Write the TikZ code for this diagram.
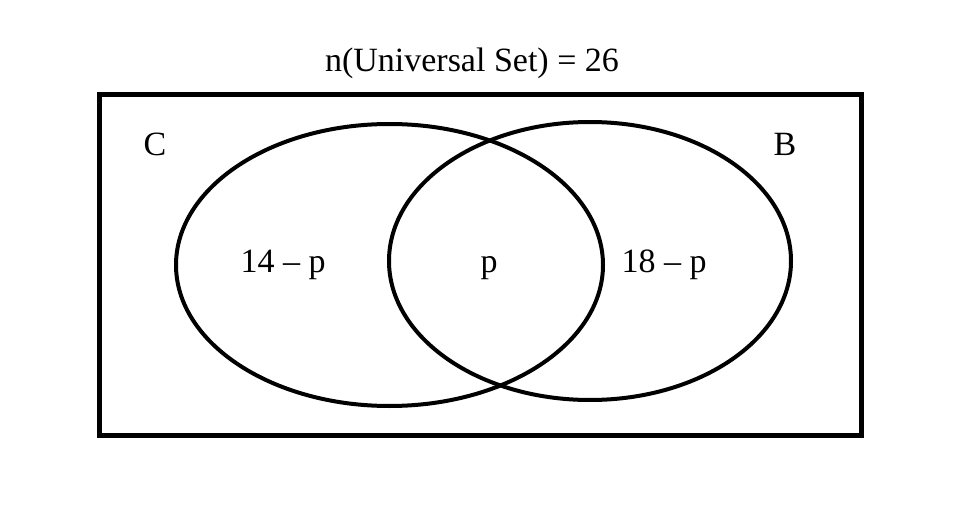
\documentclass[tikz,border=0pt]{standalone}
\usepackage{fontspec}
\setmainfont{Liberation Serif}
\begin{document}
\begin{tikzpicture}[x=1pt,y=-1pt,
  lbl/.style={font=\fontsize{34}{40}\selectfont, inner sep=0pt, anchor=base},
  frame/.style={draw=black, line width=4.5pt},
  setline/.style={draw=black, line width=4pt}]
\useasboundingbox (0,0) rectangle (959,508);
\draw[frame] (99.5,94.5) rectangle (861.5,435.5);
\draw[setline] (389.5,265) ellipse [x radius=213.5, y radius=141];
\draw[setline] (590,261) ellipse [x radius=201, y radius=139];
\node[lbl] (title) at (472,72) {n(Universal Set) = 26};
\node[lbl] (c) at (155,156) {C};
\node[lbl] (b) at (785,156) {B};
\node[lbl] (left) at (283,272) {14 – p};
\node[lbl] (mid) at (489,272) {p};
\node[lbl] (right) at (664,272) {18 – p};
\end{tikzpicture}
\end{document}
